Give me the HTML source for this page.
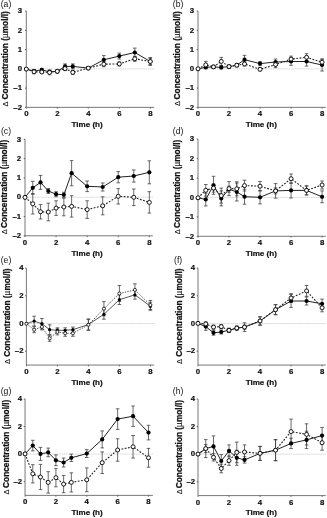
<!DOCTYPE html>
<html><head><meta charset="utf-8"><style>
html,body{margin:0;padding:0;background:#fff;}
body{width:327px;height:518px;overflow:hidden;}
svg{display:block;filter:blur(0.3px);}
text{font-family:"Liberation Sans",sans-serif;fill:#111;}
.tk{font-size:7.8px;font-weight:bold;stroke:#111;stroke-width:0.2px;}
.xl{font-size:8.1px;font-weight:bold;stroke:#111;stroke-width:0.2px;}
.yl{font-size:8.3px;font-weight:bold;stroke:#111;stroke-width:0.25px;}
.mu{font-weight:normal;stroke-width:0.1px;}
.dl{font-size:7.5px;stroke:#111;stroke-width:0.1px;}
.pl{font-size:8.6px;}
</style></head><body>
<svg width="327" height="518" viewBox="0 0 327 518">
<line x1="27.3" y1="68.85" x2="154.3" y2="68.85" stroke="#d2d2d2" stroke-width="0.9" stroke-dasharray="1.3 0.5"/>
<path d="M26.3 11.1V107.35H154.1" fill="none" stroke="#555" stroke-width="0.8"/>
<line x1="25" y1="11.1" x2="26.3" y2="11.1" stroke="#555" stroke-width="0.9"/>
<text x="22" y="13.3" class="tk" text-anchor="end">3</text>
<line x1="25" y1="30.35" x2="26.3" y2="30.35" stroke="#555" stroke-width="0.9"/>
<text x="22" y="32.55" class="tk" text-anchor="end">2</text>
<line x1="25" y1="49.6" x2="26.3" y2="49.6" stroke="#555" stroke-width="0.9"/>
<text x="22" y="51.8" class="tk" text-anchor="end">1</text>
<line x1="25" y1="68.85" x2="26.3" y2="68.85" stroke="#555" stroke-width="0.9"/>
<text x="22" y="71.05" class="tk" text-anchor="end">0</text>
<line x1="25" y1="88.1" x2="26.3" y2="88.1" stroke="#555" stroke-width="0.9"/>
<text x="22" y="90.3" class="tk" text-anchor="end">–1</text>
<line x1="25" y1="107.35" x2="26.3" y2="107.35" stroke="#555" stroke-width="0.9"/>
<text x="22" y="109.55" class="tk" text-anchor="end">–2</text>
<line x1="26.3" y1="107.35" x2="26.3" y2="108.65" stroke="#555" stroke-width="0.9"/>
<text x="26.3" y="116.35" class="tk" text-anchor="middle">0</text>
<line x1="57.3" y1="107.35" x2="57.3" y2="108.65" stroke="#555" stroke-width="0.9"/>
<text x="57.3" y="116.35" class="tk" text-anchor="middle">2</text>
<line x1="88.3" y1="107.35" x2="88.3" y2="108.65" stroke="#555" stroke-width="0.9"/>
<text x="88.3" y="116.35" class="tk" text-anchor="middle">4</text>
<line x1="119.3" y1="107.35" x2="119.3" y2="108.65" stroke="#555" stroke-width="0.9"/>
<text x="119.3" y="116.35" class="tk" text-anchor="middle">6</text>
<line x1="150.3" y1="107.35" x2="150.3" y2="108.65" stroke="#555" stroke-width="0.9"/>
<text x="150.3" y="116.35" class="tk" text-anchor="middle">8</text>
<text x="87.1" y="127.15" class="xl" text-anchor="middle">Time (h)</text>
<text transform="translate(8.1 99.4) rotate(-90)" class="yl">Concentration (<tspan class="mu">µ</tspan>mol/l)</text>
<text transform="translate(8.1 106.6) rotate(-90)" class="dl">Δ</text>
<text x="6" y="7" class="pl" text-anchor="middle">(a)</text>
<path d="M34.05 69.9V73.7M32.25 69.9H35.85M32.25 73.7H35.85" stroke="#3a3a3a" stroke-width="0.75" fill="none"/>
<path d="M34.05 69.6V72.6M32.25 69.6H35.85M32.25 72.6H35.85" stroke="#3a3a3a" stroke-width="0.75" fill="none"/>
<path d="M41.8 70.5V73.5M40 70.5H43.6M40 73.5H43.6" stroke="#3a3a3a" stroke-width="0.75" fill="none"/>
<path d="M41.8 68.4V71.4M40 68.4H43.6M40 71.4H43.6" stroke="#3a3a3a" stroke-width="0.75" fill="none"/>
<path d="M49.55 70V74.8M47.75 70H51.35M47.75 74.8H51.35" stroke="#3a3a3a" stroke-width="0.75" fill="none"/>
<path d="M49.55 70.3V73.3M47.75 70.3H51.35M47.75 73.3H51.35" stroke="#3a3a3a" stroke-width="0.75" fill="none"/>
<path d="M57.3 69.8V72.8M55.5 69.8H59.1M55.5 72.8H59.1" stroke="#3a3a3a" stroke-width="0.75" fill="none"/>
<path d="M57.3 69.8V72.8M55.5 69.8H59.1M55.5 72.8H59.1" stroke="#3a3a3a" stroke-width="0.75" fill="none"/>
<path d="M65.05 66.6V70.6M63.25 66.6H66.85M63.25 70.6H66.85" stroke="#3a3a3a" stroke-width="0.75" fill="none"/>
<path d="M65.05 63.9V68.9M63.25 63.9H66.85M63.25 68.9H66.85" stroke="#3a3a3a" stroke-width="0.75" fill="none"/>
<path d="M72.8 70.4V74.4M71 70.4H74.6M71 74.4H74.6" stroke="#3a3a3a" stroke-width="0.75" fill="none"/>
<path d="M72.8 63.9V68.9M71 63.9H74.6M71 68.9H74.6" stroke="#3a3a3a" stroke-width="0.75" fill="none"/>
<path d="M88.3 66.6V69.6M86.5 66.6H90.1M86.5 69.6H90.1" stroke="#3a3a3a" stroke-width="0.75" fill="none"/>
<path d="M88.3 66.6V69.6M86.5 66.6H90.1M86.5 69.6H90.1" stroke="#3a3a3a" stroke-width="0.75" fill="none"/>
<path d="M103.8 61.7V66.7M102 61.7H105.6M102 66.7H105.6" stroke="#3a3a3a" stroke-width="0.75" fill="none"/>
<path d="M103.8 55.6V64M102 55.6H105.6M102 64H105.6" stroke="#3a3a3a" stroke-width="0.75" fill="none"/>
<path d="M119.3 61.9V65.9M117.5 61.9H121.1M117.5 65.9H121.1" stroke="#3a3a3a" stroke-width="0.75" fill="none"/>
<path d="M119.3 53.1V59.1M117.5 53.1H121.1M117.5 59.1H121.1" stroke="#3a3a3a" stroke-width="0.75" fill="none"/>
<path d="M134.8 56.3V61.3M133 56.3H136.6M133 61.3H136.6" stroke="#3a3a3a" stroke-width="0.75" fill="none"/>
<path d="M134.8 48.1V56.9M133 48.1H136.6M133 56.9H136.6" stroke="#3a3a3a" stroke-width="0.75" fill="none"/>
<path d="M150.3 58.5V64.5M148.5 58.5H152.1M148.5 64.5H152.1" stroke="#3a3a3a" stroke-width="0.75" fill="none"/>
<path d="M150.3 57.5V65.5M148.5 57.5H152.1M148.5 65.5H152.1" stroke="#3a3a3a" stroke-width="0.75" fill="none"/>
<polyline points="26.3,69.1 34.05,71.8 41.8,72 49.55,72.4 57.3,71.3 65.05,68.6 72.8,72.4 88.3,68.1 103.8,64.2 119.3,63.9 134.8,58.8 150.3,61.5" fill="none" stroke="#222" stroke-width="1.1" stroke-dasharray="1.8 1.5"/>
<polyline points="26.3,69.1 34.05,71.1 41.8,69.9 49.55,71.8 57.3,71.3 65.05,66.4 72.8,66.4 88.3,68.1 103.8,59.8 119.3,56.1 134.8,52.5 150.3,61.5" fill="none" stroke="#222" stroke-width="1"/>
<circle cx="26.3" cy="69.1" r="2.1" fill="#000"/>
<circle cx="34.05" cy="71.1" r="2.1" fill="#000"/>
<circle cx="41.8" cy="69.9" r="2.1" fill="#000"/>
<circle cx="49.55" cy="71.8" r="2.1" fill="#000"/>
<circle cx="57.3" cy="71.3" r="2.1" fill="#000"/>
<circle cx="65.05" cy="66.4" r="2.1" fill="#000"/>
<circle cx="72.8" cy="66.4" r="2.1" fill="#000"/>
<circle cx="88.3" cy="68.1" r="2.1" fill="#000"/>
<circle cx="103.8" cy="59.8" r="2.1" fill="#000"/>
<circle cx="119.3" cy="56.1" r="2.1" fill="#000"/>
<circle cx="134.8" cy="52.5" r="2.1" fill="#000"/>
<circle cx="150.3" cy="61.5" r="2.1" fill="#000"/>
<circle cx="26.3" cy="69.1" r="2" fill="#fff" stroke="#000" stroke-width="0.9"/>
<circle cx="34.05" cy="71.8" r="2" fill="#fff" stroke="#000" stroke-width="0.9"/>
<circle cx="41.8" cy="72" r="2" fill="#fff" stroke="#000" stroke-width="0.9"/>
<circle cx="49.55" cy="72.4" r="2" fill="#fff" stroke="#000" stroke-width="0.9"/>
<circle cx="57.3" cy="71.3" r="2" fill="#fff" stroke="#000" stroke-width="0.9"/>
<circle cx="65.05" cy="68.6" r="2" fill="#fff" stroke="#000" stroke-width="0.9"/>
<circle cx="72.8" cy="72.4" r="2" fill="#fff" stroke="#000" stroke-width="0.9"/>
<circle cx="88.3" cy="68.1" r="2" fill="#fff" stroke="#000" stroke-width="0.9"/>
<circle cx="103.8" cy="64.2" r="2" fill="#fff" stroke="#000" stroke-width="0.9"/>
<circle cx="119.3" cy="63.9" r="2" fill="#fff" stroke="#000" stroke-width="0.9"/>
<circle cx="134.8" cy="58.8" r="2" fill="#fff" stroke="#000" stroke-width="0.9"/>
<circle cx="150.3" cy="61.5" r="2" fill="#fff" stroke="#000" stroke-width="0.9"/>
<line x1="199" y1="68.85" x2="326" y2="68.85" stroke="#d2d2d2" stroke-width="0.9" stroke-dasharray="1.3 0.5"/>
<path d="M198 11.1V107.35H325.8" fill="none" stroke="#555" stroke-width="0.8"/>
<line x1="196.7" y1="11.1" x2="198" y2="11.1" stroke="#555" stroke-width="0.9"/>
<text x="194.1" y="13.3" class="tk" text-anchor="end">3</text>
<line x1="196.7" y1="30.35" x2="198" y2="30.35" stroke="#555" stroke-width="0.9"/>
<text x="194.1" y="32.55" class="tk" text-anchor="end">2</text>
<line x1="196.7" y1="49.6" x2="198" y2="49.6" stroke="#555" stroke-width="0.9"/>
<text x="194.1" y="51.8" class="tk" text-anchor="end">1</text>
<line x1="196.7" y1="68.85" x2="198" y2="68.85" stroke="#555" stroke-width="0.9"/>
<text x="194.1" y="71.05" class="tk" text-anchor="end">0</text>
<line x1="196.7" y1="88.1" x2="198" y2="88.1" stroke="#555" stroke-width="0.9"/>
<text x="194.1" y="90.3" class="tk" text-anchor="end">–1</text>
<line x1="196.7" y1="107.35" x2="198" y2="107.35" stroke="#555" stroke-width="0.9"/>
<text x="194.1" y="109.55" class="tk" text-anchor="end">–2</text>
<line x1="198" y1="107.35" x2="198" y2="108.65" stroke="#555" stroke-width="0.9"/>
<text x="198" y="116.35" class="tk" text-anchor="middle">0</text>
<line x1="229.02" y1="107.35" x2="229.02" y2="108.65" stroke="#555" stroke-width="0.9"/>
<text x="229.02" y="116.35" class="tk" text-anchor="middle">2</text>
<line x1="260.04" y1="107.35" x2="260.04" y2="108.65" stroke="#555" stroke-width="0.9"/>
<text x="260.04" y="116.35" class="tk" text-anchor="middle">4</text>
<line x1="291.06" y1="107.35" x2="291.06" y2="108.65" stroke="#555" stroke-width="0.9"/>
<text x="291.06" y="116.35" class="tk" text-anchor="middle">6</text>
<line x1="322.08" y1="107.35" x2="322.08" y2="108.65" stroke="#555" stroke-width="0.9"/>
<text x="322.08" y="116.35" class="tk" text-anchor="middle">8</text>
<text x="261.3" y="127.15" class="xl" text-anchor="middle">Time (h)</text>
<text transform="translate(179.8 99.4) rotate(-90)" class="yl">Concentration (<tspan class="mu">µ</tspan>mol/l)</text>
<text transform="translate(179.8 106.1) rotate(-90)" class="dl">Δ</text>
<text x="178.1" y="7" class="pl" text-anchor="middle">(b)</text>
<path d="M205.75 61.4V68.4M203.95 61.4H207.56M203.95 68.4H207.56" stroke="#3a3a3a" stroke-width="0.75" fill="none"/>
<path d="M205.75 65.8V68.8M203.95 65.8H207.56M203.95 68.8H207.56" stroke="#3a3a3a" stroke-width="0.75" fill="none"/>
<path d="M213.51 65.4V68.4M211.71 65.4H215.31M211.71 68.4H215.31" stroke="#3a3a3a" stroke-width="0.75" fill="none"/>
<path d="M213.51 65.4V68.4M211.71 65.4H215.31M211.71 68.4H215.31" stroke="#3a3a3a" stroke-width="0.75" fill="none"/>
<path d="M221.26 57.4V65.4M219.46 57.4H223.06M219.46 65.4H223.06" stroke="#3a3a3a" stroke-width="0.75" fill="none"/>
<path d="M221.26 65.9V68.9M219.46 65.9H223.06M219.46 68.9H223.06" stroke="#3a3a3a" stroke-width="0.75" fill="none"/>
<path d="M229.02 65.1V68.1M227.22 65.1H230.82M227.22 68.1H230.82" stroke="#3a3a3a" stroke-width="0.75" fill="none"/>
<path d="M229.02 65.1V68.1M227.22 65.1H230.82M227.22 68.1H230.82" stroke="#3a3a3a" stroke-width="0.75" fill="none"/>
<path d="M236.78 63.7V66.7M234.97 63.7H238.58M234.97 66.7H238.58" stroke="#3a3a3a" stroke-width="0.75" fill="none"/>
<path d="M236.78 63.7V66.7M234.97 63.7H238.58M234.97 66.7H238.58" stroke="#3a3a3a" stroke-width="0.75" fill="none"/>
<path d="M244.53 62V66M242.73 62H246.33M242.73 66H246.33" stroke="#3a3a3a" stroke-width="0.75" fill="none"/>
<path d="M244.53 55.3V64.1M242.73 55.3H246.33M242.73 64.1H246.33" stroke="#3a3a3a" stroke-width="0.75" fill="none"/>
<path d="M260.04 67.8V70.8M258.24 67.8H261.84M258.24 70.8H261.84" stroke="#3a3a3a" stroke-width="0.75" fill="none"/>
<path d="M260.04 61.6V65.6M258.24 61.6H261.84M258.24 65.6H261.84" stroke="#3a3a3a" stroke-width="0.75" fill="none"/>
<path d="M275.55 61.6V67.6M273.75 61.6H277.35M273.75 67.6H277.35" stroke="#3a3a3a" stroke-width="0.75" fill="none"/>
<path d="M275.55 59V65M273.75 59H277.35M273.75 65H277.35" stroke="#3a3a3a" stroke-width="0.75" fill="none"/>
<path d="M291.06 56.1V62.1M289.26 56.1H292.86M289.26 62.1H292.86" stroke="#3a3a3a" stroke-width="0.75" fill="none"/>
<path d="M291.06 57.7V65.3M289.26 57.7H292.86M289.26 65.3H292.86" stroke="#3a3a3a" stroke-width="0.75" fill="none"/>
<path d="M306.57 53.7V60.9M304.77 53.7H308.37M304.77 60.9H308.37" stroke="#3a3a3a" stroke-width="0.75" fill="none"/>
<path d="M306.57 56.9V66.1M304.77 56.9H308.37M304.77 66.1H308.37" stroke="#3a3a3a" stroke-width="0.75" fill="none"/>
<path d="M322.08 59.2V65.2M320.28 59.2H323.88M320.28 65.2H323.88" stroke="#3a3a3a" stroke-width="0.75" fill="none"/>
<path d="M322.08 59V71M320.28 59H323.88M320.28 71H323.88" stroke="#3a3a3a" stroke-width="0.75" fill="none"/>
<polyline points="198,68.8 205.75,64.9 213.51,66.9 221.26,61.4 229.02,66.6 236.78,65.2 244.53,64 260.04,69.3 275.55,64.6 291.06,59.1 306.57,57.3 322.08,62.2" fill="none" stroke="#222" stroke-width="1.1" stroke-dasharray="1.8 1.5"/>
<polyline points="198,68.8 205.75,67.3 213.51,66.9 221.26,67.4 229.02,66.6 236.78,65.2 244.53,59.7 260.04,63.6 275.55,62 291.06,61.5 306.57,61.5 322.08,65" fill="none" stroke="#222" stroke-width="1"/>
<circle cx="198" cy="68.8" r="2.1" fill="#000"/>
<circle cx="205.75" cy="67.3" r="2.1" fill="#000"/>
<circle cx="213.51" cy="66.9" r="2.1" fill="#000"/>
<circle cx="221.26" cy="67.4" r="2.1" fill="#000"/>
<circle cx="229.02" cy="66.6" r="2.1" fill="#000"/>
<circle cx="236.78" cy="65.2" r="2.1" fill="#000"/>
<circle cx="244.53" cy="59.7" r="2.1" fill="#000"/>
<circle cx="260.04" cy="63.6" r="2.1" fill="#000"/>
<circle cx="275.55" cy="62" r="2.1" fill="#000"/>
<circle cx="291.06" cy="61.5" r="2.1" fill="#000"/>
<circle cx="306.57" cy="61.5" r="2.1" fill="#000"/>
<circle cx="322.08" cy="65" r="2.1" fill="#000"/>
<circle cx="198" cy="68.8" r="2" fill="#fff" stroke="#000" stroke-width="0.9"/>
<circle cx="205.75" cy="64.9" r="2" fill="#fff" stroke="#000" stroke-width="0.9"/>
<circle cx="213.51" cy="66.9" r="2" fill="#fff" stroke="#000" stroke-width="0.9"/>
<circle cx="221.26" cy="61.4" r="2" fill="#fff" stroke="#000" stroke-width="0.9"/>
<circle cx="229.02" cy="66.6" r="2" fill="#fff" stroke="#000" stroke-width="0.9"/>
<circle cx="236.78" cy="65.2" r="2" fill="#fff" stroke="#000" stroke-width="0.9"/>
<circle cx="244.53" cy="64" r="2" fill="#fff" stroke="#000" stroke-width="0.9"/>
<circle cx="260.04" cy="69.3" r="2" fill="#fff" stroke="#000" stroke-width="0.9"/>
<circle cx="275.55" cy="64.6" r="2" fill="#fff" stroke="#000" stroke-width="0.9"/>
<circle cx="291.06" cy="59.1" r="2" fill="#fff" stroke="#000" stroke-width="0.9"/>
<circle cx="306.57" cy="57.3" r="2" fill="#fff" stroke="#000" stroke-width="0.9"/>
<circle cx="322.08" cy="62.2" r="2" fill="#fff" stroke="#000" stroke-width="0.9"/>
<line x1="26" y1="197.22" x2="153" y2="197.22" stroke="#d2d2d2" stroke-width="0.9" stroke-dasharray="1.3 0.5"/>
<path d="M25 139.35V235.8H152.8" fill="none" stroke="#555" stroke-width="0.8"/>
<line x1="23.7" y1="139.35" x2="25" y2="139.35" stroke="#555" stroke-width="0.9"/>
<text x="21.1" y="141.55" class="tk" text-anchor="end">3</text>
<line x1="23.7" y1="158.64" x2="25" y2="158.64" stroke="#555" stroke-width="0.9"/>
<text x="21.1" y="160.84" class="tk" text-anchor="end">2</text>
<line x1="23.7" y1="177.93" x2="25" y2="177.93" stroke="#555" stroke-width="0.9"/>
<text x="21.1" y="180.13" class="tk" text-anchor="end">1</text>
<line x1="23.7" y1="197.22" x2="25" y2="197.22" stroke="#555" stroke-width="0.9"/>
<text x="21.1" y="199.42" class="tk" text-anchor="end">0</text>
<line x1="23.7" y1="216.51" x2="25" y2="216.51" stroke="#555" stroke-width="0.9"/>
<text x="21.1" y="218.71" class="tk" text-anchor="end">–1</text>
<line x1="23.7" y1="235.8" x2="25" y2="235.8" stroke="#555" stroke-width="0.9"/>
<text x="21.1" y="238" class="tk" text-anchor="end">–2</text>
<line x1="25" y1="235.8" x2="25" y2="237.1" stroke="#555" stroke-width="0.9"/>
<text x="25" y="244.8" class="tk" text-anchor="middle">0</text>
<line x1="56.08" y1="235.8" x2="56.08" y2="237.1" stroke="#555" stroke-width="0.9"/>
<text x="56.08" y="244.8" class="tk" text-anchor="middle">2</text>
<line x1="87.16" y1="235.8" x2="87.16" y2="237.1" stroke="#555" stroke-width="0.9"/>
<text x="87.16" y="244.8" class="tk" text-anchor="middle">4</text>
<line x1="118.24" y1="235.8" x2="118.24" y2="237.1" stroke="#555" stroke-width="0.9"/>
<text x="118.24" y="244.8" class="tk" text-anchor="middle">6</text>
<line x1="149.32" y1="235.8" x2="149.32" y2="237.1" stroke="#555" stroke-width="0.9"/>
<text x="149.32" y="244.8" class="tk" text-anchor="middle">8</text>
<text x="87.1" y="255.6" class="xl" text-anchor="middle">Time (h)</text>
<text transform="translate(7 227.9) rotate(-90)" class="yl">Concentration (<tspan class="mu">µ</tspan>mol/l)</text>
<text transform="translate(7 234.2) rotate(-90)" class="dl">Δ</text>
<text x="6" y="134.25" class="pl" text-anchor="middle">(c)</text>
<path d="M32.77 193.6V214M30.97 193.6H34.57M30.97 214H34.57" stroke="#3a3a3a" stroke-width="0.75" fill="none"/>
<path d="M32.77 181.3V194.3M30.97 181.3H34.57M30.97 194.3H34.57" stroke="#3a3a3a" stroke-width="0.75" fill="none"/>
<path d="M40.54 204.6V219M38.74 204.6H42.34M38.74 219H42.34" stroke="#3a3a3a" stroke-width="0.75" fill="none"/>
<path d="M40.54 175.4V189.4M38.74 175.4H42.34M38.74 189.4H42.34" stroke="#3a3a3a" stroke-width="0.75" fill="none"/>
<path d="M48.31 203.2V220.8M46.51 203.2H50.11M46.51 220.8H50.11" stroke="#3a3a3a" stroke-width="0.75" fill="none"/>
<path d="M48.31 188.5V193.5M46.51 188.5H50.11M46.51 193.5H50.11" stroke="#3a3a3a" stroke-width="0.75" fill="none"/>
<path d="M56.08 200.8V215.4M54.28 200.8H57.88M54.28 215.4H57.88" stroke="#3a3a3a" stroke-width="0.75" fill="none"/>
<path d="M56.08 191.7V196.7M54.28 191.7H57.88M54.28 196.7H57.88" stroke="#3a3a3a" stroke-width="0.75" fill="none"/>
<path d="M63.85 198.2V215.8M62.05 198.2H65.65M62.05 215.8H65.65" stroke="#3a3a3a" stroke-width="0.75" fill="none"/>
<path d="M63.85 192.3V197.3M62.05 192.3H65.65M62.05 197.3H65.65" stroke="#3a3a3a" stroke-width="0.75" fill="none"/>
<path d="M71.62 195.7V217.1M69.82 195.7H73.42M69.82 217.1H73.42" stroke="#3a3a3a" stroke-width="0.75" fill="none"/>
<path d="M71.62 160.6V185.8M69.82 160.6H73.42M69.82 185.8H73.42" stroke="#3a3a3a" stroke-width="0.75" fill="none"/>
<path d="M87.16 200.8V218.4M85.36 200.8H88.96M85.36 218.4H88.96" stroke="#3a3a3a" stroke-width="0.75" fill="none"/>
<path d="M87.16 181V191.6M85.36 181H88.96M85.36 191.6H88.96" stroke="#3a3a3a" stroke-width="0.75" fill="none"/>
<path d="M102.7 196.8V214.8M100.9 196.8H104.5M100.9 214.8H104.5" stroke="#3a3a3a" stroke-width="0.75" fill="none"/>
<path d="M102.7 183V191M100.9 183H104.5M100.9 191H104.5" stroke="#3a3a3a" stroke-width="0.75" fill="none"/>
<path d="M118.24 188.6V204M116.44 188.6H120.04M116.44 204H120.04" stroke="#3a3a3a" stroke-width="0.75" fill="none"/>
<path d="M118.24 171.6V182.8M116.44 171.6H120.04M116.44 182.8H120.04" stroke="#3a3a3a" stroke-width="0.75" fill="none"/>
<path d="M133.78 189V205.6M131.98 189H135.58M131.98 205.6H135.58" stroke="#3a3a3a" stroke-width="0.75" fill="none"/>
<path d="M133.78 169.9V182.1M131.98 169.9H135.58M131.98 182.1H135.58" stroke="#3a3a3a" stroke-width="0.75" fill="none"/>
<path d="M149.32 191.7V213.1M147.52 191.7H151.12M147.52 213.1H151.12" stroke="#3a3a3a" stroke-width="0.75" fill="none"/>
<path d="M149.32 160.8V183.8M147.52 160.8H151.12M147.52 183.8H151.12" stroke="#3a3a3a" stroke-width="0.75" fill="none"/>
<polyline points="25,197.4 32.77,203.8 40.54,211.8 48.31,212 56.08,208.1 63.85,207 71.62,206.4 87.16,209.6 102.7,205.8 118.24,196.3 133.78,197.3 149.32,202.4" fill="none" stroke="#222" stroke-width="1.1" stroke-dasharray="1.8 1.5"/>
<polyline points="25,197.4 32.77,187.8 40.54,182.4 48.31,191 56.08,194.2 63.85,194.8 71.62,173.2 87.16,186.3 102.7,187 118.24,177.2 133.78,176 149.32,172.3" fill="none" stroke="#222" stroke-width="1"/>
<circle cx="25" cy="197.4" r="2.1" fill="#000"/>
<circle cx="32.77" cy="187.8" r="2.1" fill="#000"/>
<circle cx="40.54" cy="182.4" r="2.1" fill="#000"/>
<circle cx="48.31" cy="191" r="2.1" fill="#000"/>
<circle cx="56.08" cy="194.2" r="2.1" fill="#000"/>
<circle cx="63.85" cy="194.8" r="2.1" fill="#000"/>
<circle cx="71.62" cy="173.2" r="2.1" fill="#000"/>
<circle cx="87.16" cy="186.3" r="2.1" fill="#000"/>
<circle cx="102.7" cy="187" r="2.1" fill="#000"/>
<circle cx="118.24" cy="177.2" r="2.1" fill="#000"/>
<circle cx="133.78" cy="176" r="2.1" fill="#000"/>
<circle cx="149.32" cy="172.3" r="2.1" fill="#000"/>
<circle cx="25" cy="197.4" r="2" fill="#fff" stroke="#000" stroke-width="0.9"/>
<circle cx="32.77" cy="203.8" r="2" fill="#fff" stroke="#000" stroke-width="0.9"/>
<circle cx="40.54" cy="211.8" r="2" fill="#fff" stroke="#000" stroke-width="0.9"/>
<circle cx="48.31" cy="212" r="2" fill="#fff" stroke="#000" stroke-width="0.9"/>
<circle cx="56.08" cy="208.1" r="2" fill="#fff" stroke="#000" stroke-width="0.9"/>
<circle cx="63.85" cy="207" r="2" fill="#fff" stroke="#000" stroke-width="0.9"/>
<circle cx="71.62" cy="206.4" r="2" fill="#fff" stroke="#000" stroke-width="0.9"/>
<circle cx="87.16" cy="209.6" r="2" fill="#fff" stroke="#000" stroke-width="0.9"/>
<circle cx="102.7" cy="205.8" r="2" fill="#fff" stroke="#000" stroke-width="0.9"/>
<circle cx="118.24" cy="196.3" r="2" fill="#fff" stroke="#000" stroke-width="0.9"/>
<circle cx="133.78" cy="197.3" r="2" fill="#fff" stroke="#000" stroke-width="0.9"/>
<circle cx="149.32" cy="202.4" r="2" fill="#fff" stroke="#000" stroke-width="0.9"/>
<line x1="199" y1="197.46" x2="326" y2="197.46" stroke="#d2d2d2" stroke-width="0.9" stroke-dasharray="1.3 0.5"/>
<path d="M198 139.2V236.3H325.8" fill="none" stroke="#555" stroke-width="0.8"/>
<line x1="196.7" y1="139.2" x2="198" y2="139.2" stroke="#555" stroke-width="0.9"/>
<text x="194.1" y="141.4" class="tk" text-anchor="end">3</text>
<line x1="196.7" y1="158.62" x2="198" y2="158.62" stroke="#555" stroke-width="0.9"/>
<text x="194.1" y="160.82" class="tk" text-anchor="end">2</text>
<line x1="196.7" y1="178.04" x2="198" y2="178.04" stroke="#555" stroke-width="0.9"/>
<text x="194.1" y="180.24" class="tk" text-anchor="end">1</text>
<line x1="196.7" y1="197.46" x2="198" y2="197.46" stroke="#555" stroke-width="0.9"/>
<text x="194.1" y="199.66" class="tk" text-anchor="end">0</text>
<line x1="196.7" y1="216.88" x2="198" y2="216.88" stroke="#555" stroke-width="0.9"/>
<text x="194.1" y="219.08" class="tk" text-anchor="end">–1</text>
<line x1="196.7" y1="236.3" x2="198" y2="236.3" stroke="#555" stroke-width="0.9"/>
<text x="194.1" y="238.5" class="tk" text-anchor="end">–2</text>
<line x1="198" y1="236.3" x2="198" y2="237.6" stroke="#555" stroke-width="0.9"/>
<text x="198" y="245.3" class="tk" text-anchor="middle">0</text>
<line x1="229.02" y1="236.3" x2="229.02" y2="237.6" stroke="#555" stroke-width="0.9"/>
<text x="229.02" y="245.3" class="tk" text-anchor="middle">2</text>
<line x1="260.04" y1="236.3" x2="260.04" y2="237.6" stroke="#555" stroke-width="0.9"/>
<text x="260.04" y="245.3" class="tk" text-anchor="middle">4</text>
<line x1="291.06" y1="236.3" x2="291.06" y2="237.6" stroke="#555" stroke-width="0.9"/>
<text x="291.06" y="245.3" class="tk" text-anchor="middle">6</text>
<line x1="322.08" y1="236.3" x2="322.08" y2="237.6" stroke="#555" stroke-width="0.9"/>
<text x="322.08" y="245.3" class="tk" text-anchor="middle">8</text>
<text x="261.3" y="256.1" class="xl" text-anchor="middle">Time (h)</text>
<text transform="translate(179.6 227.9) rotate(-90)" class="yl">Concentration (<tspan class="mu">µ</tspan>mol/l)</text>
<text transform="translate(179.6 234.2) rotate(-90)" class="dl">Δ</text>
<text x="178.1" y="134.1" class="pl" text-anchor="middle">(d)</text>
<path d="M205.75 184.5V196.1M203.95 184.5H207.56M203.95 196.1H207.56" stroke="#3a3a3a" stroke-width="0.75" fill="none"/>
<path d="M205.75 193.1V205.9M203.95 193.1H207.56M203.95 205.9H207.56" stroke="#3a3a3a" stroke-width="0.75" fill="none"/>
<path d="M213.51 184.1V192.1M211.71 184.1H215.31M211.71 192.1H215.31" stroke="#3a3a3a" stroke-width="0.75" fill="none"/>
<path d="M213.51 176.3V194.3M211.71 176.3H215.31M211.71 194.3H215.31" stroke="#3a3a3a" stroke-width="0.75" fill="none"/>
<path d="M221.26 188.1V203.1M219.46 188.1H223.06M219.46 203.1H223.06" stroke="#3a3a3a" stroke-width="0.75" fill="none"/>
<path d="M221.26 190.9V205.9M219.46 190.9H223.06M219.46 205.9H223.06" stroke="#3a3a3a" stroke-width="0.75" fill="none"/>
<path d="M229.02 181.6V195.6M227.22 181.6H230.82M227.22 195.6H230.82" stroke="#3a3a3a" stroke-width="0.75" fill="none"/>
<path d="M229.02 186.2V192.2M227.22 186.2H230.82M227.22 192.2H230.82" stroke="#3a3a3a" stroke-width="0.75" fill="none"/>
<path d="M236.78 181.8V195.8M234.97 181.8H238.58M234.97 195.8H238.58" stroke="#3a3a3a" stroke-width="0.75" fill="none"/>
<path d="M236.78 183V201M234.97 183H238.58M234.97 201H238.58" stroke="#3a3a3a" stroke-width="0.75" fill="none"/>
<path d="M244.53 180.2V191M242.73 180.2H246.33M242.73 191H246.33" stroke="#3a3a3a" stroke-width="0.75" fill="none"/>
<path d="M244.53 189.2V204.2M242.73 189.2H246.33M242.73 204.2H246.33" stroke="#3a3a3a" stroke-width="0.75" fill="none"/>
<path d="M260.04 181.5V190.9M258.24 181.5H261.84M258.24 190.9H261.84" stroke="#3a3a3a" stroke-width="0.75" fill="none"/>
<path d="M260.04 190.7V203.9M258.24 190.7H261.84M258.24 203.9H261.84" stroke="#3a3a3a" stroke-width="0.75" fill="none"/>
<path d="M275.55 183.6V198.2M273.75 183.6H277.35M273.75 198.2H277.35" stroke="#3a3a3a" stroke-width="0.75" fill="none"/>
<path d="M275.55 187.9V193.9M273.75 187.9H277.35M273.75 193.9H277.35" stroke="#3a3a3a" stroke-width="0.75" fill="none"/>
<path d="M291.06 174V183.4M289.26 174H292.86M289.26 183.4H292.86" stroke="#3a3a3a" stroke-width="0.75" fill="none"/>
<path d="M291.06 182.8V198M289.26 182.8H292.86M289.26 198H292.86" stroke="#3a3a3a" stroke-width="0.75" fill="none"/>
<path d="M306.57 185.9V194.9M304.77 185.9H308.37M304.77 194.9H308.37" stroke="#3a3a3a" stroke-width="0.75" fill="none"/>
<path d="M306.57 185.9V194.9M304.77 185.9H308.37M304.77 194.9H308.37" stroke="#3a3a3a" stroke-width="0.75" fill="none"/>
<path d="M322.08 181V189M320.28 181H323.88M320.28 189H323.88" stroke="#3a3a3a" stroke-width="0.75" fill="none"/>
<path d="M322.08 190.9V202.7M320.28 190.9H323.88M320.28 202.7H323.88" stroke="#3a3a3a" stroke-width="0.75" fill="none"/>
<polyline points="198,197.8 205.75,190.3 213.51,188.1 221.26,195.6 229.02,188.6 236.78,188.8 244.53,185.6 260.04,186.2 275.55,190.9 291.06,178.7 306.57,190.4 322.08,185" fill="none" stroke="#222" stroke-width="1.1" stroke-dasharray="1.8 1.5"/>
<polyline points="198,197.8 205.75,199.5 213.51,185.3 221.26,198.4 229.02,189.2 236.78,192 244.53,196.7 260.04,197.3 275.55,190.9 291.06,190.4 306.57,190.4 322.08,196.8" fill="none" stroke="#222" stroke-width="1"/>
<circle cx="198" cy="197.8" r="2.1" fill="#000"/>
<circle cx="205.75" cy="199.5" r="2.1" fill="#000"/>
<circle cx="213.51" cy="185.3" r="2.1" fill="#000"/>
<circle cx="221.26" cy="198.4" r="2.1" fill="#000"/>
<circle cx="229.02" cy="189.2" r="2.1" fill="#000"/>
<circle cx="236.78" cy="192" r="2.1" fill="#000"/>
<circle cx="244.53" cy="196.7" r="2.1" fill="#000"/>
<circle cx="260.04" cy="197.3" r="2.1" fill="#000"/>
<circle cx="275.55" cy="190.9" r="2.1" fill="#000"/>
<circle cx="291.06" cy="190.4" r="2.1" fill="#000"/>
<circle cx="306.57" cy="190.4" r="2.1" fill="#000"/>
<circle cx="322.08" cy="196.8" r="2.1" fill="#000"/>
<circle cx="198" cy="197.8" r="2" fill="#fff" stroke="#000" stroke-width="0.9"/>
<circle cx="205.75" cy="190.3" r="2" fill="#fff" stroke="#000" stroke-width="0.9"/>
<circle cx="213.51" cy="188.1" r="2" fill="#fff" stroke="#000" stroke-width="0.9"/>
<circle cx="221.26" cy="195.6" r="2" fill="#fff" stroke="#000" stroke-width="0.9"/>
<circle cx="229.02" cy="188.6" r="2" fill="#fff" stroke="#000" stroke-width="0.9"/>
<circle cx="236.78" cy="188.8" r="2" fill="#fff" stroke="#000" stroke-width="0.9"/>
<circle cx="244.53" cy="185.6" r="2" fill="#fff" stroke="#000" stroke-width="0.9"/>
<circle cx="260.04" cy="186.2" r="2" fill="#fff" stroke="#000" stroke-width="0.9"/>
<circle cx="275.55" cy="190.9" r="2" fill="#fff" stroke="#000" stroke-width="0.9"/>
<circle cx="291.06" cy="178.7" r="2" fill="#fff" stroke="#000" stroke-width="0.9"/>
<circle cx="306.57" cy="190.4" r="2" fill="#fff" stroke="#000" stroke-width="0.9"/>
<circle cx="322.08" cy="185" r="2" fill="#fff" stroke="#000" stroke-width="0.9"/>
<line x1="27.4" y1="323.5" x2="154.4" y2="323.5" stroke="#d2d2d2" stroke-width="0.9" stroke-dasharray="1.3 0.5"/>
<path d="M26.4 268.1V365.05H154.2" fill="none" stroke="#555" stroke-width="0.8"/>
<line x1="25.1" y1="268.1" x2="26.4" y2="268.1" stroke="#555" stroke-width="0.9"/>
<text x="23.5" y="270.3" class="tk" text-anchor="end">4</text>
<line x1="25.1" y1="295.8" x2="26.4" y2="295.8" stroke="#555" stroke-width="0.9"/>
<text x="23.5" y="298" class="tk" text-anchor="end">2</text>
<line x1="25.1" y1="323.5" x2="26.4" y2="323.5" stroke="#555" stroke-width="0.9"/>
<text x="23.5" y="325.7" class="tk" text-anchor="end">0</text>
<line x1="25.1" y1="351.2" x2="26.4" y2="351.2" stroke="#555" stroke-width="0.9"/>
<text x="23.5" y="353.4" class="tk" text-anchor="end">–2</text>
<line x1="26.4" y1="365.05" x2="26.4" y2="366.35" stroke="#555" stroke-width="0.9"/>
<text x="26.4" y="374.05" class="tk" text-anchor="middle">0</text>
<line x1="57.4" y1="365.05" x2="57.4" y2="366.35" stroke="#555" stroke-width="0.9"/>
<text x="57.4" y="374.05" class="tk" text-anchor="middle">2</text>
<line x1="88.4" y1="365.05" x2="88.4" y2="366.35" stroke="#555" stroke-width="0.9"/>
<text x="88.4" y="374.05" class="tk" text-anchor="middle">4</text>
<line x1="119.4" y1="365.05" x2="119.4" y2="366.35" stroke="#555" stroke-width="0.9"/>
<text x="119.4" y="374.05" class="tk" text-anchor="middle">6</text>
<line x1="150.4" y1="365.05" x2="150.4" y2="366.35" stroke="#555" stroke-width="0.9"/>
<text x="150.4" y="374.05" class="tk" text-anchor="middle">8</text>
<text x="87.1" y="384.85" class="xl" text-anchor="middle">Time (h)</text>
<text transform="translate(9.8 356.7) rotate(-90)" class="yl">Concentration (<tspan class="mu">µ</tspan>mol/l)</text>
<text transform="translate(9.8 364) rotate(-90)" class="dl">Δ</text>
<text x="6" y="263" class="pl" text-anchor="middle">(e)</text>
<path d="M34.15 326.7V332.7M32.35 326.7H35.95M32.35 332.7H35.95" stroke="#3a3a3a" stroke-width="0.75" fill="none"/>
<path d="M34.15 316.2V326M32.35 316.2H35.95M32.35 326H35.95" stroke="#3a3a3a" stroke-width="0.75" fill="none"/>
<path d="M41.9 323.9V329.9M40.1 323.9H43.7M40.1 329.9H43.7" stroke="#3a3a3a" stroke-width="0.75" fill="none"/>
<path d="M41.9 318.5V328.9M40.1 318.5H43.7M40.1 328.9H43.7" stroke="#3a3a3a" stroke-width="0.75" fill="none"/>
<path d="M49.65 335.3V341.3M47.85 335.3H51.45M47.85 341.3H51.45" stroke="#3a3a3a" stroke-width="0.75" fill="none"/>
<path d="M49.65 324.8V334.6M47.85 324.8H51.45M47.85 334.6H51.45" stroke="#3a3a3a" stroke-width="0.75" fill="none"/>
<path d="M57.4 328.9V334.9M55.6 328.9H59.2M55.6 334.9H59.2" stroke="#3a3a3a" stroke-width="0.75" fill="none"/>
<path d="M57.4 327.8V332.8M55.6 327.8H59.2M55.6 332.8H59.2" stroke="#3a3a3a" stroke-width="0.75" fill="none"/>
<path d="M65.15 330.3V336.3M63.35 330.3H66.95M63.35 336.3H66.95" stroke="#3a3a3a" stroke-width="0.75" fill="none"/>
<path d="M65.15 327.8V332.8M63.35 327.8H66.95M63.35 332.8H66.95" stroke="#3a3a3a" stroke-width="0.75" fill="none"/>
<path d="M72.9 330.3V336.3M71.1 330.3H74.7M71.1 336.3H74.7" stroke="#3a3a3a" stroke-width="0.75" fill="none"/>
<path d="M72.9 327.1V332.3M71.1 327.1H74.7M71.1 332.3H74.7" stroke="#3a3a3a" stroke-width="0.75" fill="none"/>
<path d="M88.4 319.3V330.3M86.6 319.3H90.2M86.6 330.3H90.2" stroke="#3a3a3a" stroke-width="0.75" fill="none"/>
<path d="M88.4 319V330M86.6 319H90.2M86.6 330H90.2" stroke="#3a3a3a" stroke-width="0.75" fill="none"/>
<path d="M103.9 301.6V315.8M102.1 301.6H105.7M102.1 315.8H105.7" stroke="#3a3a3a" stroke-width="0.75" fill="none"/>
<path d="M103.9 309.4V319.2M102.1 309.4H105.7M102.1 319.2H105.7" stroke="#3a3a3a" stroke-width="0.75" fill="none"/>
<path d="M119.4 285.5V301.5M117.6 285.5H121.2M117.6 301.5H121.2" stroke="#3a3a3a" stroke-width="0.75" fill="none"/>
<path d="M119.4 294.9V304.5M117.6 294.9H121.2M117.6 304.5H121.2" stroke="#3a3a3a" stroke-width="0.75" fill="none"/>
<path d="M134.9 283.8V296M133.1 283.8H136.7M133.1 296H136.7" stroke="#3a3a3a" stroke-width="0.75" fill="none"/>
<path d="M134.9 290.4V299.2M133.1 290.4H136.7M133.1 299.2H136.7" stroke="#3a3a3a" stroke-width="0.75" fill="none"/>
<path d="M150.4 300.5V309.5M148.6 300.5H152.2M148.6 309.5H152.2" stroke="#3a3a3a" stroke-width="0.75" fill="none"/>
<path d="M150.4 302.3V310.3M148.6 302.3H152.2M148.6 310.3H152.2" stroke="#3a3a3a" stroke-width="0.75" fill="none"/>
<polyline points="26.4,323.7 34.15,329.7 41.9,326.9 49.65,338.3 57.4,331.9 65.15,333.3 72.9,333.3 88.4,324.8 103.9,308.7 119.4,293.5 134.9,289.9 150.4,305" fill="none" stroke="#222" stroke-width="0.83" stroke-dasharray="1.3 1.3"/>
<polyline points="26.4,323.7 34.15,321.1 41.9,323.7 49.65,329.7 57.4,330.3 65.15,330.3 72.9,329.7 88.4,324.5 103.9,314.3 119.4,299.7 134.9,294.8 150.4,306.3" fill="none" stroke="#222" stroke-width="0.75"/>
<circle cx="26.4" cy="323.7" r="1.6" fill="#000"/>
<circle cx="34.15" cy="321.1" r="1.6" fill="#000"/>
<circle cx="41.9" cy="323.7" r="1.6" fill="#000"/>
<circle cx="49.65" cy="329.7" r="1.6" fill="#000"/>
<circle cx="57.4" cy="330.3" r="1.6" fill="#000"/>
<circle cx="65.15" cy="330.3" r="1.6" fill="#000"/>
<circle cx="72.9" cy="329.7" r="1.6" fill="#000"/>
<circle cx="88.4" cy="324.5" r="1.6" fill="#000"/>
<circle cx="103.9" cy="314.3" r="1.6" fill="#000"/>
<circle cx="119.4" cy="299.7" r="1.6" fill="#000"/>
<circle cx="134.9" cy="294.8" r="1.6" fill="#000"/>
<circle cx="150.4" cy="306.3" r="1.6" fill="#000"/>
<circle cx="26.4" cy="323.7" r="1.55" fill="#fff" stroke="#000" stroke-width="0.75"/>
<circle cx="34.15" cy="329.7" r="1.55" fill="#fff" stroke="#000" stroke-width="0.75"/>
<circle cx="41.9" cy="326.9" r="1.55" fill="#fff" stroke="#000" stroke-width="0.75"/>
<circle cx="49.65" cy="338.3" r="1.55" fill="#fff" stroke="#000" stroke-width="0.75"/>
<circle cx="57.4" cy="331.9" r="1.55" fill="#fff" stroke="#000" stroke-width="0.75"/>
<circle cx="65.15" cy="333.3" r="1.55" fill="#fff" stroke="#000" stroke-width="0.75"/>
<circle cx="72.9" cy="333.3" r="1.55" fill="#fff" stroke="#000" stroke-width="0.75"/>
<circle cx="88.4" cy="324.8" r="1.55" fill="#fff" stroke="#000" stroke-width="0.75"/>
<circle cx="103.9" cy="308.7" r="1.55" fill="#fff" stroke="#000" stroke-width="0.75"/>
<circle cx="119.4" cy="293.5" r="1.55" fill="#fff" stroke="#000" stroke-width="0.75"/>
<circle cx="134.9" cy="289.9" r="1.55" fill="#fff" stroke="#000" stroke-width="0.75"/>
<circle cx="150.4" cy="305" r="1.55" fill="#fff" stroke="#000" stroke-width="0.75"/>
<line x1="199" y1="323.5" x2="326" y2="323.5" stroke="#d2d2d2" stroke-width="0.9" stroke-dasharray="1.3 0.5"/>
<path d="M198 268.1V365.05H325.8" fill="none" stroke="#555" stroke-width="0.8"/>
<line x1="196.7" y1="268.1" x2="198" y2="268.1" stroke="#555" stroke-width="0.9"/>
<text x="195.1" y="270.3" class="tk" text-anchor="end">4</text>
<line x1="196.7" y1="295.8" x2="198" y2="295.8" stroke="#555" stroke-width="0.9"/>
<text x="195.1" y="298" class="tk" text-anchor="end">2</text>
<line x1="196.7" y1="323.5" x2="198" y2="323.5" stroke="#555" stroke-width="0.9"/>
<text x="195.1" y="325.7" class="tk" text-anchor="end">0</text>
<line x1="196.7" y1="351.2" x2="198" y2="351.2" stroke="#555" stroke-width="0.9"/>
<text x="195.1" y="353.4" class="tk" text-anchor="end">–2</text>
<line x1="198" y1="365.05" x2="198" y2="366.35" stroke="#555" stroke-width="0.9"/>
<text x="198" y="374.05" class="tk" text-anchor="middle">0</text>
<line x1="229.02" y1="365.05" x2="229.02" y2="366.35" stroke="#555" stroke-width="0.9"/>
<text x="229.02" y="374.05" class="tk" text-anchor="middle">2</text>
<line x1="260.04" y1="365.05" x2="260.04" y2="366.35" stroke="#555" stroke-width="0.9"/>
<text x="260.04" y="374.05" class="tk" text-anchor="middle">4</text>
<line x1="291.06" y1="365.05" x2="291.06" y2="366.35" stroke="#555" stroke-width="0.9"/>
<text x="291.06" y="374.05" class="tk" text-anchor="middle">6</text>
<line x1="322.08" y1="365.05" x2="322.08" y2="366.35" stroke="#555" stroke-width="0.9"/>
<text x="322.08" y="374.05" class="tk" text-anchor="middle">8</text>
<text x="261.3" y="384.85" class="xl" text-anchor="middle">Time (h)</text>
<text transform="translate(182.2 356.7) rotate(-90)" class="yl">Concentration (<tspan class="mu">µ</tspan>mol/l)</text>
<text transform="translate(182.2 364) rotate(-90)" class="dl">Δ</text>
<text x="178.1" y="263" class="pl" text-anchor="middle">(f)</text>
<path d="M205.75 321.9V325.9M203.95 321.9H207.56M203.95 325.9H207.56" stroke="#3a3a3a" stroke-width="0.75" fill="none"/>
<path d="M205.75 322.9V330.3M203.95 322.9H207.56M203.95 330.3H207.56" stroke="#3a3a3a" stroke-width="0.75" fill="none"/>
<path d="M213.51 325.1V329.1M211.71 325.1H215.31M211.71 329.1H215.31" stroke="#3a3a3a" stroke-width="0.75" fill="none"/>
<path d="M213.51 330.4V335.2M211.71 330.4H215.31M211.71 335.2H215.31" stroke="#3a3a3a" stroke-width="0.75" fill="none"/>
<path d="M221.26 324.6V328.6M219.46 324.6H223.06M219.46 328.6H223.06" stroke="#3a3a3a" stroke-width="0.75" fill="none"/>
<path d="M221.26 330V334M219.46 330H223.06M219.46 334H223.06" stroke="#3a3a3a" stroke-width="0.75" fill="none"/>
<path d="M229.02 328.3V332.3M227.22 328.3H230.82M227.22 332.3H230.82" stroke="#3a3a3a" stroke-width="0.75" fill="none"/>
<path d="M229.02 328.3V332.3M227.22 328.3H230.82M227.22 332.3H230.82" stroke="#3a3a3a" stroke-width="0.75" fill="none"/>
<path d="M236.78 326.1V330.1M234.97 326.1H238.58M234.97 330.1H238.58" stroke="#3a3a3a" stroke-width="0.75" fill="none"/>
<path d="M236.78 326.1V330.1M234.97 326.1H238.58M234.97 330.1H238.58" stroke="#3a3a3a" stroke-width="0.75" fill="none"/>
<path d="M244.53 322.8V331.4M242.73 322.8H246.33M242.73 331.4H246.33" stroke="#3a3a3a" stroke-width="0.75" fill="none"/>
<path d="M244.53 325.1V329.1M242.73 325.1H246.33M242.73 329.1H246.33" stroke="#3a3a3a" stroke-width="0.75" fill="none"/>
<path d="M260.04 316.8V325.2M258.24 316.8H261.84M258.24 325.2H261.84" stroke="#3a3a3a" stroke-width="0.75" fill="none"/>
<path d="M260.04 316.8V325.2M258.24 316.8H261.84M258.24 325.2H261.84" stroke="#3a3a3a" stroke-width="0.75" fill="none"/>
<path d="M275.55 304.7V314.7M273.75 304.7H277.35M273.75 314.7H277.35" stroke="#3a3a3a" stroke-width="0.75" fill="none"/>
<path d="M275.55 304.7V314.7M273.75 304.7H277.35M273.75 314.7H277.35" stroke="#3a3a3a" stroke-width="0.75" fill="none"/>
<path d="M291.06 293.7V302.3M289.26 293.7H292.86M289.26 302.3H292.86" stroke="#3a3a3a" stroke-width="0.75" fill="none"/>
<path d="M291.06 294.6V307.4M289.26 294.6H292.86M289.26 307.4H292.86" stroke="#3a3a3a" stroke-width="0.75" fill="none"/>
<path d="M306.57 285.5V296.3M304.77 285.5H308.37M304.77 296.3H308.37" stroke="#3a3a3a" stroke-width="0.75" fill="none"/>
<path d="M306.57 297V305M304.77 297H308.37M304.77 305H308.37" stroke="#3a3a3a" stroke-width="0.75" fill="none"/>
<path d="M322.08 303.8V311.8M320.28 303.8H323.88M320.28 311.8H323.88" stroke="#3a3a3a" stroke-width="0.75" fill="none"/>
<path d="M322.08 299.1V308.5M320.28 299.1H323.88M320.28 308.5H323.88" stroke="#3a3a3a" stroke-width="0.75" fill="none"/>
<polyline points="198,323.4 205.75,323.9 213.51,327.1 221.26,326.6 229.02,330.3 236.78,328.1 244.53,327.1 260.04,321 275.55,309.7 291.06,298 306.57,290.9 322.08,307.8" fill="none" stroke="#222" stroke-width="1.1" stroke-dasharray="1.8 1.5"/>
<polyline points="198,323.4 205.75,326.6 213.51,332.8 221.26,332 229.02,330.3 236.78,328.1 244.53,327.1 260.04,321 275.55,309.7 291.06,301 306.57,301 322.08,303.8" fill="none" stroke="#222" stroke-width="1"/>
<circle cx="198" cy="323.4" r="2.1" fill="#000"/>
<circle cx="205.75" cy="326.6" r="2.1" fill="#000"/>
<circle cx="213.51" cy="332.8" r="2.1" fill="#000"/>
<circle cx="221.26" cy="332" r="2.1" fill="#000"/>
<circle cx="229.02" cy="330.3" r="2.1" fill="#000"/>
<circle cx="236.78" cy="328.1" r="2.1" fill="#000"/>
<circle cx="244.53" cy="327.1" r="2.1" fill="#000"/>
<circle cx="260.04" cy="321" r="2.1" fill="#000"/>
<circle cx="275.55" cy="309.7" r="2.1" fill="#000"/>
<circle cx="291.06" cy="301" r="2.1" fill="#000"/>
<circle cx="306.57" cy="301" r="2.1" fill="#000"/>
<circle cx="322.08" cy="303.8" r="2.1" fill="#000"/>
<circle cx="198" cy="323.4" r="2" fill="#fff" stroke="#000" stroke-width="0.9"/>
<circle cx="205.75" cy="323.9" r="2" fill="#fff" stroke="#000" stroke-width="0.9"/>
<circle cx="213.51" cy="327.1" r="2" fill="#fff" stroke="#000" stroke-width="0.9"/>
<circle cx="221.26" cy="326.6" r="2" fill="#fff" stroke="#000" stroke-width="0.9"/>
<circle cx="229.02" cy="330.3" r="2" fill="#fff" stroke="#000" stroke-width="0.9"/>
<circle cx="236.78" cy="328.1" r="2" fill="#fff" stroke="#000" stroke-width="0.9"/>
<circle cx="244.53" cy="327.1" r="2" fill="#fff" stroke="#000" stroke-width="0.9"/>
<circle cx="260.04" cy="321" r="2" fill="#fff" stroke="#000" stroke-width="0.9"/>
<circle cx="275.55" cy="309.7" r="2" fill="#fff" stroke="#000" stroke-width="0.9"/>
<circle cx="291.06" cy="298" r="2" fill="#fff" stroke="#000" stroke-width="0.9"/>
<circle cx="306.57" cy="290.9" r="2" fill="#fff" stroke="#000" stroke-width="0.9"/>
<circle cx="322.08" cy="307.8" r="2" fill="#fff" stroke="#000" stroke-width="0.9"/>
<line x1="26.05" y1="454.08" x2="153.05" y2="454.08" stroke="#d2d2d2" stroke-width="0.9" stroke-dasharray="1.3 0.5"/>
<path d="M25.05 399V495.39H152.85" fill="none" stroke="#555" stroke-width="0.8"/>
<line x1="23.75" y1="399" x2="25.05" y2="399" stroke="#555" stroke-width="0.9"/>
<text x="22.15" y="401.2" class="tk" text-anchor="end">4</text>
<line x1="23.75" y1="426.54" x2="25.05" y2="426.54" stroke="#555" stroke-width="0.9"/>
<text x="22.15" y="428.74" class="tk" text-anchor="end">2</text>
<line x1="23.75" y1="454.08" x2="25.05" y2="454.08" stroke="#555" stroke-width="0.9"/>
<text x="22.15" y="456.28" class="tk" text-anchor="end">0</text>
<line x1="23.75" y1="481.62" x2="25.05" y2="481.62" stroke="#555" stroke-width="0.9"/>
<text x="22.15" y="483.82" class="tk" text-anchor="end">–2</text>
<line x1="25.05" y1="495.39" x2="25.05" y2="496.69" stroke="#555" stroke-width="0.9"/>
<text x="25.05" y="504.39" class="tk" text-anchor="middle">0</text>
<line x1="55.91" y1="495.39" x2="55.91" y2="496.69" stroke="#555" stroke-width="0.9"/>
<text x="55.91" y="504.39" class="tk" text-anchor="middle">2</text>
<line x1="86.77" y1="495.39" x2="86.77" y2="496.69" stroke="#555" stroke-width="0.9"/>
<text x="86.77" y="504.39" class="tk" text-anchor="middle">4</text>
<line x1="117.63" y1="495.39" x2="117.63" y2="496.69" stroke="#555" stroke-width="0.9"/>
<text x="117.63" y="504.39" class="tk" text-anchor="middle">6</text>
<line x1="148.49" y1="495.39" x2="148.49" y2="496.69" stroke="#555" stroke-width="0.9"/>
<text x="148.49" y="504.39" class="tk" text-anchor="middle">8</text>
<text x="87.1" y="515.19" class="xl" text-anchor="middle">Time (h)</text>
<text transform="translate(9 487.9) rotate(-90)" class="yl">Concentration (<tspan class="mu">µ</tspan>mol/l)</text>
<text transform="translate(9 494.5) rotate(-90)" class="dl">Δ</text>
<text x="6" y="393.9" class="pl" text-anchor="middle">(g)</text>
<path d="M32.77 464.7V482.9M30.96 464.7H34.56M30.96 482.9H34.56" stroke="#3a3a3a" stroke-width="0.75" fill="none"/>
<path d="M32.77 440.3V450.9M30.96 440.3H34.56M30.96 450.9H34.56" stroke="#3a3a3a" stroke-width="0.75" fill="none"/>
<path d="M40.48 464.4V489.6M38.68 464.4H42.28M38.68 489.6H42.28" stroke="#3a3a3a" stroke-width="0.75" fill="none"/>
<path d="M40.48 447.4V460.4M38.68 447.4H42.28M38.68 460.4H42.28" stroke="#3a3a3a" stroke-width="0.75" fill="none"/>
<path d="M48.2 471.7V493.1M46.4 471.7H49.99M46.4 493.1H49.99" stroke="#3a3a3a" stroke-width="0.75" fill="none"/>
<path d="M48.2 448.1V456.7M46.4 448.1H49.99M46.4 456.7H49.99" stroke="#3a3a3a" stroke-width="0.75" fill="none"/>
<path d="M55.91 468.6V486.8M54.11 468.6H57.71M54.11 486.8H57.71" stroke="#3a3a3a" stroke-width="0.75" fill="none"/>
<path d="M55.91 454.9V465.7M54.11 454.9H57.71M54.11 465.7H57.71" stroke="#3a3a3a" stroke-width="0.75" fill="none"/>
<path d="M63.62 475.5V492.7M61.83 475.5H65.42M61.83 492.7H65.42" stroke="#3a3a3a" stroke-width="0.75" fill="none"/>
<path d="M63.62 458V467M61.83 458H65.42M61.83 467H65.42" stroke="#3a3a3a" stroke-width="0.75" fill="none"/>
<path d="M71.34 472.8V492M69.54 472.8H73.14M69.54 492H73.14" stroke="#3a3a3a" stroke-width="0.75" fill="none"/>
<path d="M71.34 454.1V461.5M69.54 454.1H73.14M69.54 461.5H73.14" stroke="#3a3a3a" stroke-width="0.75" fill="none"/>
<path d="M86.77 467.9V491.7M84.97 467.9H88.57M84.97 491.7H88.57" stroke="#3a3a3a" stroke-width="0.75" fill="none"/>
<path d="M86.77 449.7V457.5M84.97 449.7H88.57M84.97 457.5H88.57" stroke="#3a3a3a" stroke-width="0.75" fill="none"/>
<path d="M102.2 451.9V473.5M100.4 451.9H104M100.4 473.5H104" stroke="#3a3a3a" stroke-width="0.75" fill="none"/>
<path d="M102.2 430.9V447.9M100.4 430.9H104M100.4 447.9H104" stroke="#3a3a3a" stroke-width="0.75" fill="none"/>
<path d="M117.63 438.8V461.2M115.83 438.8H119.43M115.83 461.2H119.43" stroke="#3a3a3a" stroke-width="0.75" fill="none"/>
<path d="M117.63 408.8V429.4M115.83 408.8H119.43M115.83 429.4H119.43" stroke="#3a3a3a" stroke-width="0.75" fill="none"/>
<path d="M133.06 435.5V458.1M131.26 435.5H134.86M131.26 458.1H134.86" stroke="#3a3a3a" stroke-width="0.75" fill="none"/>
<path d="M133.06 406V426.4M131.26 406H134.86M131.26 426.4H134.86" stroke="#3a3a3a" stroke-width="0.75" fill="none"/>
<path d="M148.49 448.4V467.2M146.69 448.4H150.29M146.69 467.2H150.29" stroke="#3a3a3a" stroke-width="0.75" fill="none"/>
<path d="M148.49 425.3V439.9M146.69 425.3H150.29M146.69 439.9H150.29" stroke="#3a3a3a" stroke-width="0.75" fill="none"/>
<polyline points="25.05,453.9 32.77,473.8 40.48,477 48.2,482.4 55.91,477.7 63.62,484.1 71.34,482.4 86.77,479.8 102.2,462.7 117.63,450 133.06,446.8 148.49,457.8" fill="none" stroke="#222" stroke-width="1.1" stroke-dasharray="1.8 1.5"/>
<polyline points="25.05,453.9 32.77,445.6 40.48,453.9 48.2,452.4 55.91,460.3 63.62,462.5 71.34,457.8 86.77,453.6 102.2,439.4 117.63,419.1 133.06,416.2 148.49,432.6" fill="none" stroke="#222" stroke-width="1"/>
<circle cx="25.05" cy="453.9" r="2.1" fill="#000"/>
<circle cx="32.77" cy="445.6" r="2.1" fill="#000"/>
<circle cx="40.48" cy="453.9" r="2.1" fill="#000"/>
<circle cx="48.2" cy="452.4" r="2.1" fill="#000"/>
<circle cx="55.91" cy="460.3" r="2.1" fill="#000"/>
<circle cx="63.62" cy="462.5" r="2.1" fill="#000"/>
<circle cx="71.34" cy="457.8" r="2.1" fill="#000"/>
<circle cx="86.77" cy="453.6" r="2.1" fill="#000"/>
<circle cx="102.2" cy="439.4" r="2.1" fill="#000"/>
<circle cx="117.63" cy="419.1" r="2.1" fill="#000"/>
<circle cx="133.06" cy="416.2" r="2.1" fill="#000"/>
<circle cx="148.49" cy="432.6" r="2.1" fill="#000"/>
<circle cx="25.05" cy="453.9" r="2" fill="#fff" stroke="#000" stroke-width="0.9"/>
<circle cx="32.77" cy="473.8" r="2" fill="#fff" stroke="#000" stroke-width="0.9"/>
<circle cx="40.48" cy="477" r="2" fill="#fff" stroke="#000" stroke-width="0.9"/>
<circle cx="48.2" cy="482.4" r="2" fill="#fff" stroke="#000" stroke-width="0.9"/>
<circle cx="55.91" cy="477.7" r="2" fill="#fff" stroke="#000" stroke-width="0.9"/>
<circle cx="63.62" cy="484.1" r="2" fill="#fff" stroke="#000" stroke-width="0.9"/>
<circle cx="71.34" cy="482.4" r="2" fill="#fff" stroke="#000" stroke-width="0.9"/>
<circle cx="86.77" cy="479.8" r="2" fill="#fff" stroke="#000" stroke-width="0.9"/>
<circle cx="102.2" cy="462.7" r="2" fill="#fff" stroke="#000" stroke-width="0.9"/>
<circle cx="117.63" cy="450" r="2" fill="#fff" stroke="#000" stroke-width="0.9"/>
<circle cx="133.06" cy="446.8" r="2" fill="#fff" stroke="#000" stroke-width="0.9"/>
<circle cx="148.49" cy="457.8" r="2" fill="#fff" stroke="#000" stroke-width="0.9"/>
<line x1="199" y1="454.2" x2="326" y2="454.2" stroke="#d2d2d2" stroke-width="0.9" stroke-dasharray="1.3 0.5"/>
<path d="M198 399V495.6H325.8" fill="none" stroke="#555" stroke-width="0.8"/>
<line x1="196.7" y1="399" x2="198" y2="399" stroke="#555" stroke-width="0.9"/>
<text x="195.1" y="401.2" class="tk" text-anchor="end">4</text>
<line x1="196.7" y1="426.6" x2="198" y2="426.6" stroke="#555" stroke-width="0.9"/>
<text x="195.1" y="428.8" class="tk" text-anchor="end">2</text>
<line x1="196.7" y1="454.2" x2="198" y2="454.2" stroke="#555" stroke-width="0.9"/>
<text x="195.1" y="456.4" class="tk" text-anchor="end">0</text>
<line x1="196.7" y1="481.8" x2="198" y2="481.8" stroke="#555" stroke-width="0.9"/>
<text x="195.1" y="484" class="tk" text-anchor="end">–2</text>
<line x1="198" y1="495.6" x2="198" y2="496.9" stroke="#555" stroke-width="0.9"/>
<text x="198" y="504.6" class="tk" text-anchor="middle">0</text>
<line x1="229.02" y1="495.6" x2="229.02" y2="496.9" stroke="#555" stroke-width="0.9"/>
<text x="229.02" y="504.6" class="tk" text-anchor="middle">2</text>
<line x1="260.04" y1="495.6" x2="260.04" y2="496.9" stroke="#555" stroke-width="0.9"/>
<text x="260.04" y="504.6" class="tk" text-anchor="middle">4</text>
<line x1="291.06" y1="495.6" x2="291.06" y2="496.9" stroke="#555" stroke-width="0.9"/>
<text x="291.06" y="504.6" class="tk" text-anchor="middle">6</text>
<line x1="322.08" y1="495.6" x2="322.08" y2="496.9" stroke="#555" stroke-width="0.9"/>
<text x="322.08" y="504.6" class="tk" text-anchor="middle">8</text>
<text x="261.3" y="515.4" class="xl" text-anchor="middle">Time (h)</text>
<text transform="translate(181.9 488.2) rotate(-90)" class="yl">Concentration (<tspan class="mu">µ</tspan>mol/l)</text>
<text transform="translate(181.9 494.2) rotate(-90)" class="dl">Δ</text>
<text x="178.1" y="393.9" class="pl" text-anchor="middle">(h)</text>
<path d="M205.75 439.6V457.6M203.95 439.6H207.56M203.95 457.6H207.56" stroke="#3a3a3a" stroke-width="0.75" fill="none"/>
<path d="M205.75 444.6V452.6M203.95 444.6H207.56M203.95 452.6H207.56" stroke="#3a3a3a" stroke-width="0.75" fill="none"/>
<path d="M213.51 453.6V461M211.71 453.6H215.31M211.71 461H215.31" stroke="#3a3a3a" stroke-width="0.75" fill="none"/>
<path d="M213.51 435.9V456.9M211.71 435.9H215.31M211.71 456.9H215.31" stroke="#3a3a3a" stroke-width="0.75" fill="none"/>
<path d="M221.26 464.2V472.8M219.46 464.2H223.06M219.46 472.8H223.06" stroke="#3a3a3a" stroke-width="0.75" fill="none"/>
<path d="M221.26 454.6V467.4M219.46 454.6H223.06M219.46 467.4H223.06" stroke="#3a3a3a" stroke-width="0.75" fill="none"/>
<path d="M229.02 455.9V465.3M227.22 455.9H230.82M227.22 465.3H230.82" stroke="#3a3a3a" stroke-width="0.75" fill="none"/>
<path d="M229.02 444.9V456.9M227.22 444.9H230.82M227.22 456.9H230.82" stroke="#3a3a3a" stroke-width="0.75" fill="none"/>
<path d="M236.78 442.1V462.7M234.97 442.1H238.58M234.97 462.7H238.58" stroke="#3a3a3a" stroke-width="0.75" fill="none"/>
<path d="M236.78 450.3V465.3M234.97 450.3H238.58M234.97 465.3H238.58" stroke="#3a3a3a" stroke-width="0.75" fill="none"/>
<path d="M244.53 444.9V459.1M242.73 444.9H246.33M242.73 459.1H246.33" stroke="#3a3a3a" stroke-width="0.75" fill="none"/>
<path d="M244.53 456.7V463.1M242.73 456.7H246.33M242.73 463.1H246.33" stroke="#3a3a3a" stroke-width="0.75" fill="none"/>
<path d="M260.04 446.4V460.4M258.24 446.4H261.84M258.24 460.4H261.84" stroke="#3a3a3a" stroke-width="0.75" fill="none"/>
<path d="M260.04 446.4V460.4M258.24 446.4H261.84M258.24 460.4H261.84" stroke="#3a3a3a" stroke-width="0.75" fill="none"/>
<path d="M275.55 439.7V460.7M273.75 439.7H277.35M273.75 460.7H277.35" stroke="#3a3a3a" stroke-width="0.75" fill="none"/>
<path d="M275.55 439.7V460.7M273.75 439.7H277.35M273.75 460.7H277.35" stroke="#3a3a3a" stroke-width="0.75" fill="none"/>
<path d="M291.06 419.1V444.1M289.26 419.1H292.86M289.26 444.1H292.86" stroke="#3a3a3a" stroke-width="0.75" fill="none"/>
<path d="M291.06 438.2V448.6M289.26 438.2H292.86M289.26 448.6H292.86" stroke="#3a3a3a" stroke-width="0.75" fill="none"/>
<path d="M306.57 423.8V445M304.77 423.8H308.37M304.77 445H308.37" stroke="#3a3a3a" stroke-width="0.75" fill="none"/>
<path d="M306.57 431.2V448.6M304.77 431.2H308.37M304.77 448.6H308.37" stroke="#3a3a3a" stroke-width="0.75" fill="none"/>
<path d="M322.08 435.2V450.2M320.28 435.2H323.88M320.28 450.2H323.88" stroke="#3a3a3a" stroke-width="0.75" fill="none"/>
<path d="M322.08 427.4V443.8M320.28 427.4H323.88M320.28 443.8H323.88" stroke="#3a3a3a" stroke-width="0.75" fill="none"/>
<polyline points="198,454.1 205.75,448.6 213.51,457.3 221.26,468.5 229.02,460.6 236.78,452.4 244.53,452 260.04,453.4 275.55,450.2 291.06,431.6 306.57,434.4 322.08,442.7" fill="none" stroke="#222" stroke-width="1.1" stroke-dasharray="1.8 1.5"/>
<polyline points="198,454.1 205.75,448.6 213.51,446.4 221.26,461 229.02,450.9 236.78,457.8 244.53,459.9 260.04,453.4 275.55,450.2 291.06,443.4 306.57,439.9 322.08,435.6" fill="none" stroke="#222" stroke-width="1"/>
<circle cx="198" cy="454.1" r="2.1" fill="#000"/>
<circle cx="205.75" cy="448.6" r="2.1" fill="#000"/>
<circle cx="213.51" cy="446.4" r="2.1" fill="#000"/>
<circle cx="221.26" cy="461" r="2.1" fill="#000"/>
<circle cx="229.02" cy="450.9" r="2.1" fill="#000"/>
<circle cx="236.78" cy="457.8" r="2.1" fill="#000"/>
<circle cx="244.53" cy="459.9" r="2.1" fill="#000"/>
<circle cx="260.04" cy="453.4" r="2.1" fill="#000"/>
<circle cx="275.55" cy="450.2" r="2.1" fill="#000"/>
<circle cx="291.06" cy="443.4" r="2.1" fill="#000"/>
<circle cx="306.57" cy="439.9" r="2.1" fill="#000"/>
<circle cx="322.08" cy="435.6" r="2.1" fill="#000"/>
<circle cx="198" cy="454.1" r="2" fill="#fff" stroke="#000" stroke-width="0.9"/>
<circle cx="205.75" cy="448.6" r="2" fill="#fff" stroke="#000" stroke-width="0.9"/>
<circle cx="213.51" cy="457.3" r="2" fill="#fff" stroke="#000" stroke-width="0.9"/>
<circle cx="221.26" cy="468.5" r="2" fill="#fff" stroke="#000" stroke-width="0.9"/>
<circle cx="229.02" cy="460.6" r="2" fill="#fff" stroke="#000" stroke-width="0.9"/>
<circle cx="236.78" cy="452.4" r="2" fill="#fff" stroke="#000" stroke-width="0.9"/>
<circle cx="244.53" cy="452" r="2" fill="#fff" stroke="#000" stroke-width="0.9"/>
<circle cx="260.04" cy="453.4" r="2" fill="#fff" stroke="#000" stroke-width="0.9"/>
<circle cx="275.55" cy="450.2" r="2" fill="#fff" stroke="#000" stroke-width="0.9"/>
<circle cx="291.06" cy="431.6" r="2" fill="#fff" stroke="#000" stroke-width="0.9"/>
<circle cx="306.57" cy="434.4" r="2" fill="#fff" stroke="#000" stroke-width="0.9"/>
<circle cx="322.08" cy="442.7" r="2" fill="#fff" stroke="#000" stroke-width="0.9"/>
</svg>
</body></html>
